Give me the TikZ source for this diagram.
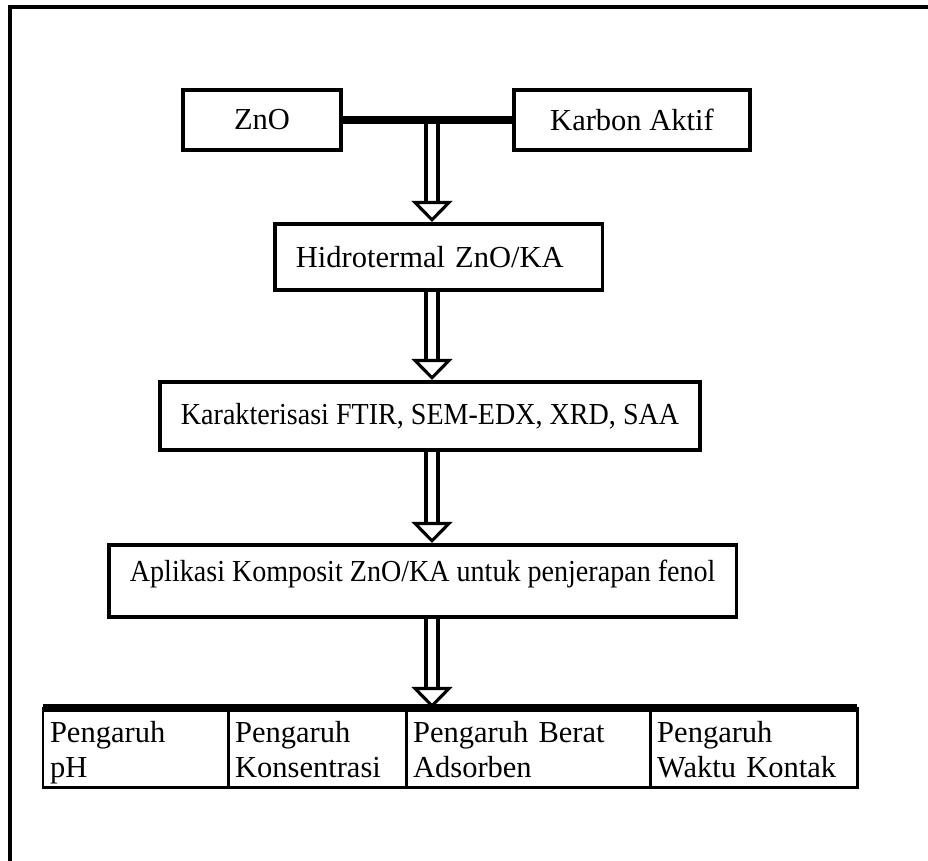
\documentclass[tikz,border=0pt]{standalone}
\usepackage{fontspec}
\setmainfont{Liberation Serif}
\usetikzlibrary{arrows.meta,positioning,calc}
\newcommand\teks{\fontsize{21.7}{24.9}\selectfont}
\newcommand\teksrapat{\teks\addfontfeature{FakeStretch=0.92}}

\tikzset{
  kotak/.style={draw, line width=2.6pt, minimum height=42.7pt, inner xsep=15pt, font=\teks},
  sel/.style={draw, line width=2.1pt, anchor=north west, align=left, inner xsep=5pt, inner ysep=4pt,
    outer sep=0pt, text height=19.3pt, text depth=26pt, minimum height=56.2pt, font=\teks},
  panah/.style={double=white, double distance=5pt, line width=3pt,
    -{Triangle[fill=white, length=15pt, width=29pt, line width=2.2pt]}},
}

\begin{document}
\begin{tikzpicture}[x=0.025cm, y=-0.025cm]
\useasboundingbox (0,0) rectangle (928,861);

% bingkai
\draw[line width=2.85pt] (928,7) -- (10,7) -- (10,861);

% bahan
\node[kotak, minimum width=112.4pt] (zno) at (262,120) {ZnO};
\node[kotak, minimum width=167.9pt] (ka) at (632,120) {Karbon Aktif};
\coordinate (cab) at (432,120);

% tahap
\node[kotak, anchor=north west, text width=203pt, align=left, minimum height=46.9pt] (hid) at (273,222) {Hidrotermal ZnO/KA};
\node[kotak, anchor=north west, minimum height=48.4pt, font=\teksrapat] (kar) at (158,380) {Karakterisasi FTIR, SEM-EDX, XRD, SAA};
\node[kotak, anchor=north west, minimum height=51.2pt, font=\teksrapat, text depth=14pt] (apl) at (107,543) {Aplikasi Komposit ZnO/KA untuk penjerapan fenol};

% variabel
\node[sel, text width=121.6pt] (p1) at (43,708) {Pengaruh\\pH};
\node[sel, text width=116.6pt, right=0pt of p1] (p2) {Pengaruh\\Konsentrasi};
\node[sel, text width=163.6pt, right=0pt of p2] (p3) {Pengaruh Berat\\Adsorben};
\node[sel, text width=137.2pt, right=0pt of p3] (p4) {Pengaruh\\Waktu Kontak};
\draw[line width=5pt] (p1.north west) -- (p4.north east);

% panah
\draw[panah] (cab) -- (cab |- hid.north);
\draw[line width=5.7pt] (zno.east) -- (ka.west);
\draw[panah] (hid.south -| cab) -- (kar.north -| cab);
\draw[panah] (kar.south -| cab) -- (apl.north -| cab);
\draw[panah] (apl.south -| cab) -- (p3.north -| cab);

\end{tikzpicture}
\end{document}
